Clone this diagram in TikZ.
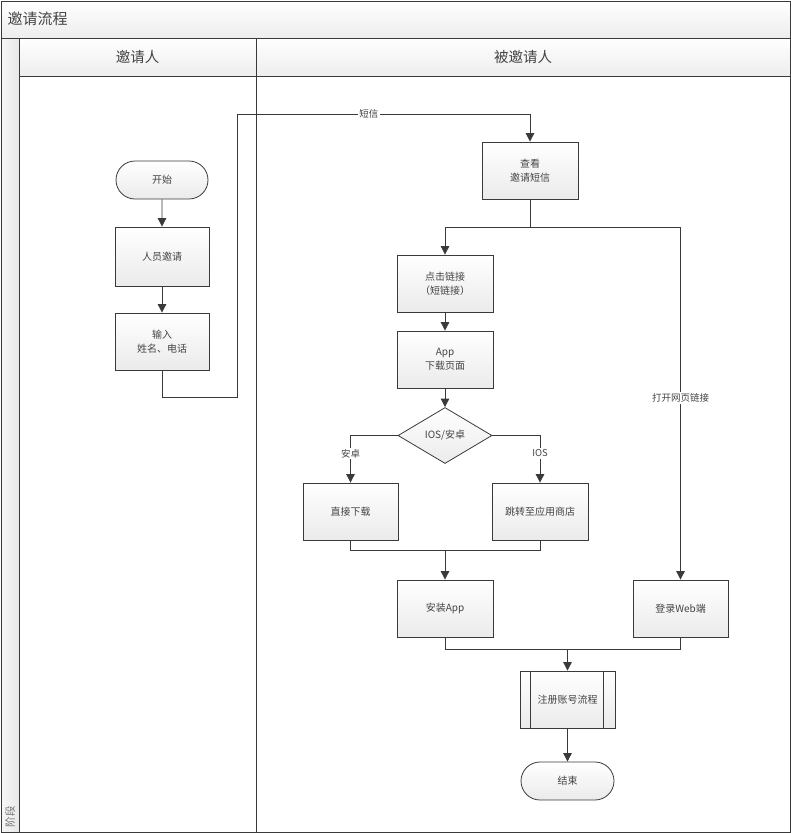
\documentclass[tikz,border=0pt]{standalone}
\usepackage{fontspec}
\setmainfont{Noto Sans CJK SC}
\usetikzlibrary{shapes.geometric,shapes.misc,arrows.meta}
\definecolor{edge}{HTML}{3A3A3A}
\definecolor{ink}{HTML}{444444}

\begin{document}
\begin{tikzpicture}[x=1pt,y=-1pt,
  every node/.style={text=ink},
  box/.style={draw=edge, line width=0.8pt, top color=white, bottom color=gray!16,
    minimum width=95pt, minimum height=57pt, align=center, inner sep=1pt,
    font=\fontsize{10}{14}\selectfont},
  term/.style={box, rounded rectangle, minimum height=38pt},
  decision/.style={box, diamond, minimum width=94pt, minimum height=56pt, aspect=1.7},
  line/.style={draw=edge, line width=0.8pt},
  flow/.style={line, -{Triangle[length=8.5pt,width=8.5pt]}},
  lbl/.style={fill=white, inner sep=1.5pt, font=\fontsize{9.5}{11}\selectfont},
  header/.style={top color=white, bottom color=gray!14}]

\useasboundingbox (0,0) rectangle (791,833);

% frame, title bar, lane headers and stage strip
\shade[header] (1,1) rectangle (790,38);
\shade[header] (19,38) rectangle (790,76);
\shade[left color=gray!6, right color=gray!18] (1,38) rectangle (19,832);
\draw[line] (1,1) rectangle (790,832);
\draw[line] (1,38) -- (790,38);
\draw[line] (19,76) -- (790,76);
\draw[line] (19,38) -- (19,832);
\draw[line] (256,38) -- (256,832);

\node[anchor=west, font=\fontsize{15}{17}\selectfont] (title) at (4,19) {邀请流程};
\node[font=\fontsize{14.5}{17}\selectfont] (laneA) at (137.5,57) {邀请人};
\node[font=\fontsize{14.5}{17}\selectfont] (laneB) at (523,57) {被邀请人};
\node[rotate=90, anchor=west, font=\fontsize{10.5}{12}\selectfont, text=gray!90!black] (stage) at (10,831) {阶段};

% inviter lane
\node[term, minimum width=94pt] (start) at (162,180) {开始};
\node[box, minimum width=94pt, minimum height=59pt] (invite) at (162,256.5) {人员邀请};
\node[box, minimum width=94pt] (input) at (162,341.5) {输入\\姓名、电话};

% invitee lane
\node[box, minimum width=96pt] (view) at (530,170.5) {查看\\邀请短信};
\node[box, minimum width=96pt] (click) at (445,283.5) {点击链接\\（短链接）};
\node[box, minimum width=96pt] (appdl) at (445,359.5) {App\\下载页面};
\node[decision] (dec) at (445,435.5) {IOS/安卓};
\node[box] (direct) at (350.5,511.5) {直接下载};
\node[box, minimum width=96pt] (store) at (540,511.5) {跳转至应用商店};
\node[box, minimum width=96pt] (install) at (445,608.5) {安装App};
\node[box] (web) at (680.5,608.5) {登录Web端};
\node[box] (reg) at (567.5,699.5) {注册账号流程};
\draw[line] ([xshift=11pt]reg.north west) -- ([xshift=11pt]reg.south west);
\draw[line] ([xshift=-12pt]reg.north east) -- ([xshift=-12pt]reg.south east);
\node[term] (end) at (567.5,781) {结束};

% connectors
\coordinate (split) at (530,227);
\coordinate (joinA) at (445,550);
\coordinate (joinB) at (567.5,649);

\draw[flow] (start) -- (invite);
\draw[flow] (invite) -- (input);
\draw[flow] (input.south) -- (162,397) -- (237,397) -- (237,114)
  -- node[lbl, pos=0.45] {短信} (530,114) -- (view.north);
\draw[line] (view.south) -- (split);
\draw[flow] (split) -| (click.north);
\draw[flow] (split) -| node[lbl, pos=0.742] {打开网页链接} (web.north);
\draw[flow] (click) -- (appdl);
\draw[flow] (appdl) -- (dec);
\draw[flow] (dec.west) -| node[lbl, pos=0.69] {安卓} (direct.north);
\draw[flow] (dec.east) -| node[lbl, pos=0.69] {IOS} (store.north);
\draw[line] (direct.south) |- (joinA);
\draw[line] (store.south) |- (joinA);
\draw[flow] (joinA) -- (install.north);
\draw[line] (install.south) |- (joinB);
\draw[line] (web.south) |- (joinB);
\draw[flow] (joinB) -- (reg.north);
\draw[flow] (reg) -- (end);
\end{tikzpicture}
\end{document}
